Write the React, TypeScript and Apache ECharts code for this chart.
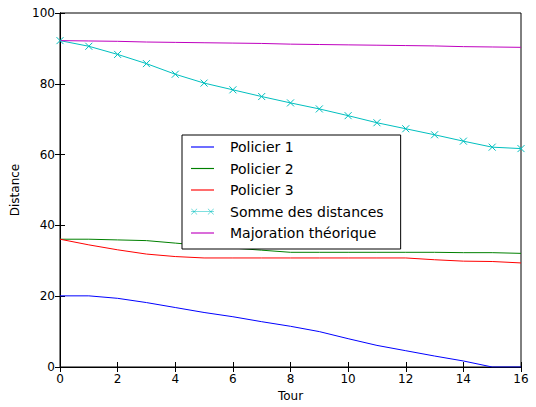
import React, { useEffect, useRef } from "react";
import * as echarts from "echarts";

const tours = [0, 1, 2, 3, 4, 5, 6, 7, 8, 9, 10, 11, 12, 13, 14, 15, 16];
const policier1 = [20.1, 20.1, 19.4, 18.2, 16.8, 15.4, 14.2, 12.8, 11.5, 10.0, 8.0, 6.1, 4.6, 3.1, 1.7, 0.0, 0.0];
const policier2 = [36.1, 36.1, 35.9, 35.7, 35.0, 34.3, 33.6, 33.0, 32.4, 32.4, 32.4, 32.4, 32.4, 32.4, 32.3, 32.3, 32.1];
const policier3 = [36.1, 34.5, 33.1, 31.9, 31.2, 30.8, 30.8, 30.8, 30.8, 30.8, 30.8, 30.8, 30.8, 30.3, 29.9, 29.8, 29.4];
const somme = [92.2, 90.6, 88.3, 85.7, 82.7, 80.2, 78.3, 76.4, 74.6, 72.9, 71.0, 69.0, 67.3, 65.6, 63.8, 62.1, 61.7];
const majoration = [92.2, 92.1, 92.0, 91.8, 91.7, 91.6, 91.5, 91.4, 91.2, 91.1, 91.0, 90.9, 90.8, 90.7, 90.5, 90.4, 90.3];

const FONT = "DejaVu Sans";

const LINE_ICON = "path://M0,0L20,0L20,1L0,1Z";
const CROSS_ICON =
  "path://M0,3.7L24,3.7L24,4.3L0,4.3Z" +
  "M0,1L0.6,1L6.6,7L6,7Z M6,1L6.6,1L0.6,7L0,7Z" +
  "M17.4,1L18,1L24,7L23.4,7Z M23.4,1L24,1L18,7L17.4,7Z";

const pairs = (ys: number[]) => tours.map((x, i) => [x, ys[i]]);

export default function App() {
  const ref = useRef<HTMLDivElement>(null);
  useEffect(() => {
    if (!ref.current) return;
    const chart = echarts.init(ref.current, null, { renderer: "svg" });
    const axisCommon = {
      axisLine: { show: true, lineStyle: { color: "#000", width: 1 } },
      axisTick: { show: true, inside: true, length: 5, lineStyle: { color: "#000" } },
      splitLine: { show: false },
    };
    const line = (name: string, data: number[], color: string, extra: any = {}) => ({
      name,
      type: "line",
      data: pairs(data),
      symbol: "none",
      lineStyle: { color, width: 1 },
      itemStyle: { color },
      ...extra,
    });
    chart.setOption({
      animation: false,
      backgroundColor: "#fff",
      textStyle: { fontFamily: FONT },
      grid: { left: 60, right: 15, top: 13, bottom: 36, show: true, borderColor: "#000", borderWidth: 1 },
      xAxis: [
        {
          type: "value", min: 0, max: 16, interval: 2,
          name: "Tour", nameLocation: "middle", nameGap: 23,
          nameTextStyle: { color: "#000", fontSize: 12, fontFamily: FONT },
          axisLabel: { color: "#000", fontSize: 12, fontFamily: FONT, margin: 6 },
          ...axisCommon,
        },
        {
          type: "value", min: 0, max: 16, interval: 2, position: "top",
          axisLabel: { show: false },
          ...axisCommon,
        },
      ],
      yAxis: [
        {
          type: "value", min: 0, max: 100, interval: 20,
          name: "Distance", nameLocation: "middle", nameGap: 21,
          nameTextStyle: { color: "#000", fontSize: 12, fontFamily: FONT },
          axisLabel: { color: "#000", fontSize: 12, fontFamily: FONT, margin: 5 },
          ...axisCommon,
        },
        {
          type: "value", min: 0, max: 100, interval: 20, position: "right",
          axisLabel: { show: false },
          ...axisCommon,
        },
      ],
      legend: {
        orient: "vertical",
        left: 182,
        top: 135,
        backgroundColor: "#fff",
        borderColor: "#000",
        borderWidth: 1,
        borderRadius: 0,
        padding: [5, 17, 9, 9],
        itemWidth: 23,
        itemHeight: 14,
        itemGap: 7.5,
        symbolKeepAspect: true,
        textStyle: { color: "#000", fontSize: 14, fontFamily: FONT, padding: [0, 0, 0, 11] },
        data: [
          { name: "Policier 1", icon: LINE_ICON },
          { name: "Policier 2", icon: LINE_ICON },
          { name: "Policier 3", icon: LINE_ICON },
          { name: "Somme des distances", icon: CROSS_ICON, itemStyle: { borderWidth: 0 } },
          { name: "Majoration théorique", icon: LINE_ICON },
        ],
      },
      series: [
        line("Policier 1", policier1, "#0000ff"),
        line("Policier 2", policier2, "#008000"),
        line("Policier 3", policier3, "#ff0000"),
        line("Somme des distances", somme, "#00bfbf", {
          symbol: "path://M0,0L10,10M10,0L0,10",
          symbolSize: 7,
          showSymbol: true,
          itemStyle: { color: "#00bfbf", borderColor: "#00bfbf", borderWidth: 1 },
        }),
        line("Majoration théorique", majoration, "#bf00bf"),
      ],
    });
    return () => chart.dispose();
  }, []);
  return (
    <div
      ref={ref}
      style={{ position: "fixed", left: 0, top: 0, width: 536, height: 407 }}
    />
  );
}
